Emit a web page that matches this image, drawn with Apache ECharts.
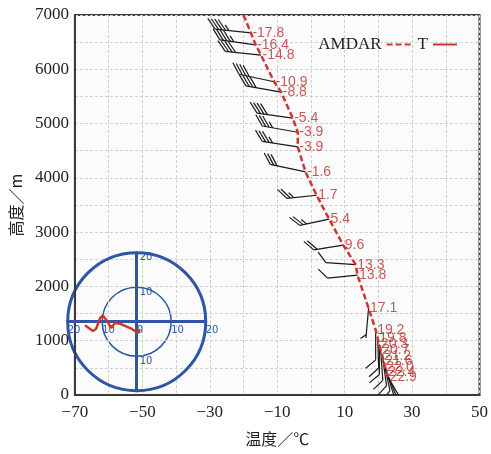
<!DOCTYPE html>
<html><head><meta charset="utf-8">
<script src="https://cdn.jsdelivr.net/npm/echarts@6/dist/echarts.min.js"></script>
<style>html,body{margin:0;padding:0;background:#fff}#c{width:491px;height:454px}</style>
</head><body><div id="c"></div>
<script>
// AMDAR profile: temperature (°C) and height (m)
const temps   = [-17.8,-16.4,-14.8,-10.9,-8.8,-5.4,-3.9,-3.9,-1.6,1.7,5.4,9.6,13.3,13.8,17.1,19.2,19.8,20.3,20.7,21.2,21.6,22.0,22.4,22.9];
const heights = [6670,6450,6260,5770,5580,5100,4840,4570,4110,3680,3240,2760,2400,2210,1600,1200,1050,930,820,720,620,520,430,330];
// wind direction (deg, from) and speed at each AMDAR point
const windDir = [276,278,276,282,280,278,280,279,282,264,258,261,274,264,185,180,178,180,176,172,168,163,158,150];
const windSpd = [48,46,44,40,40,44,38,36,30,28,26,20,10,10,8,10,12,10,14,12,10,12,10,8];
// top of the temperature profile line
const profileTopT = -20.0, profileTopH = 7000;
// inset hodograph (u, v)
const hodoU = [-15.0,-12.7,-11.8,-10.6,-9.8,-8.8,-7.4,-6.3,-4.8,-3.4,-1.4,0.4,0.9];
const hodoV = [-1.0,-2.7,-2.1,1.1,1.8,0.5,-1.8,-0.4,-0.6,-1.2,-2.1,-3.3,-2.1];
// axes
const xMin = -70, xMax = 50, xStep = 10, xLabelStep = 20;
const yMin = 0, yMax = 7000, yStep = 500, yLabelStep = 1000;

const points = temps.map((t, i) => [t, heights[i]]);
const lineData = [[profileTopT, profileTopH]].concat(points);
const barbData = temps.map((t, i) => [t, heights[i], windDir[i], windSpd[i]]);
const hodoData = hodoU.map((u, i) => [u, hodoV[i]]);

const BLUE = '#2f56a6', RED = '#d0362f';
const serif = '"Liberation Serif","Times New Roman",serif';
const minus = v => v < 0 ? '\u2212' + Math.abs(v) : String(v);

function renderBarb(params, api) {
  const p = api.coord([api.value(0), api.value(1)]);
  const rad = api.value(2) * Math.PI / 180;
  const spd = api.value(3);
  const s = [Math.sin(rad), -Math.cos(rad)];
  const perp = [-s[1], s[0]];
  const L = spd >= 30 ? 36 : 30, a = 50 * Math.PI / 180;
  const b = [s[0]*Math.cos(a) + perp[0]*Math.sin(a), s[1]*Math.cos(a) + perp[1]*Math.sin(a)];
  const tail = [p[0] + s[0]*L, p[1] + s[1]*L];
  const style = { stroke: '#1a1a1a', lineWidth: 1.2 };
  const children = [{ type: 'line', shape: { x1: p[0], y1: p[1], x2: tail[0], y2: tail[1] }, style }];
  const n = Math.floor(spd / 10), half = (spd % 10) >= 5;
  let i = 0;
  for (; i < n; i++) {
    const bx = tail[0] - s[0]*i*3.5, by = tail[1] - s[1]*i*3.5;
    children.push({ type: 'line', shape: { x1: bx, y1: by, x2: bx + b[0]*13, y2: by + b[1]*13 }, style });
  }
  if (half) {
    const k = i === 0 ? 1 : i;
    const bx = tail[0] - s[0]*k*3.5, by = tail[1] - s[1]*k*3.5;
    children.push({ type: 'line', shape: { x1: bx, y1: by, x2: bx + b[0]*7, y2: by + b[1]*7 }, style });
  }
  return { type: 'group', children };
}

const chart = echarts.init(document.getElementById('c'), null, { renderer: 'canvas' });
chart.setOption({
  animation: false,
  backgroundColor: '#fff',
  legend: {
    data: ['AMDAR', 'T'],
    right: 28, top: 31,
    align: 'right',
    itemWidth: 24, itemHeight: 12, itemGap: 6,
    itemStyle: { color: 'rgba(0,0,0,0)', borderWidth: 0 },
    textStyle: { fontFamily: serif, fontSize: 17, color: '#222' }
  },
  grid: [
    { left: 69, right: 7, top: 15, bottom: 59, show: true, borderColor: '#3a3a3a', borderWidth: 2, backgroundColor: '#fbfbfb' },
    { left: 67.7, top: 252.7, width: 138, height: 138, show: false }
  ],
  polar: { center: [136.7, 321.7], radius: 69 },
  radiusAxis: {
    polarIndex: 0, min: 0, max: 20, interval: 10,
    axisLine: { show: false }, axisTick: { show: false }, axisLabel: { show: false },
    splitLine: { show: true, lineStyle: { color: BLUE, width: 1.5, type: 'solid' } }
  },
  angleAxis: {
    polarIndex: 0, min: 0, max: 360, interval: 90,
    axisLine: { show: true, lineStyle: { color: BLUE, width: 3 } },
    axisTick: { show: false }, axisLabel: { show: false }, splitLine: { show: false }
  },
  xAxis: [
    {
      gridIndex: 0, type: 'value', min: xMin, max: xMax, interval: xStep,
      name: '温度／℃', nameLocation: 'middle', nameGap: 36,
      nameTextStyle: { fontFamily: '"Noto Sans CJK SC",sans-serif', fontSize: 16, color: '#222' },
      axisLine: { show: true, onZero: false, lineStyle: { color: '#3a3a3a', width: 2 } },
      axisTick: { show: false },
      axisLabel: { margin: 9, fontFamily: serif, fontSize: 17, color: '#222',
        formatter: v => ((v - xMin) % xLabelStep === 0 ? minus(v) : '') },
      splitLine: { show: true, lineStyle: { color: '#d0d0d0', type: [3, 2], width: 1 } }
    },
    {
      gridIndex: 1, type: 'value', min: -20, max: 20, interval: 10, position: 'bottom', offset: -69,
      axisLine: { show: true, onZero: false, lineStyle: { color: BLUE, width: 3 } },
      axisTick: { show: false }, splitLine: { show: false },
      axisLabel: { show: true, align: 'left', margin: 4, fontSize: 10, color: BLUE, fontFamily: 'DejaVu Sans,sans-serif',
        showMinLabel: true, showMaxLabel: true, formatter: v => String(Math.abs(v)) }
    }
  ],
  yAxis: [
    {
      gridIndex: 0, type: 'value', min: yMin, max: yMax, interval: yStep,
      name: '高度／m', nameLocation: 'middle', nameGap: 47, nameRotate: 90,
      nameTextStyle: { fontFamily: '"Noto Sans CJK SC",sans-serif', fontSize: 16, color: '#222' },
      axisLine: { show: true, onZero: false, lineStyle: { color: '#3a3a3a', width: 2 } },
      axisTick: { show: false },
      axisLabel: { margin: 6, fontFamily: serif, fontSize: 17, color: '#222',
        formatter: v => (v % yLabelStep === 0 ? String(v) : '') },
      splitLine: { show: true, lineStyle: { color: '#d0d0d0', type: [3, 2], width: 1 } }
    },
    {
      gridIndex: 1, type: 'value', min: -20, max: 20, interval: 10, position: 'left', offset: -69,
      axisLine: { show: true, onZero: false, lineStyle: { color: BLUE, width: 3 } },
      axisTick: { show: false }, splitLine: { show: false },
      axisLabel: { show: true, inside: true, verticalAlign: 'top', margin: 3, fontSize: 10, color: BLUE, fontFamily: 'DejaVu Sans,sans-serif',
        showMinLabel: true, showMaxLabel: true,
        formatter: v => (v === 0 || v === -20 ? '' : String(Math.abs(v))) }
    }
  ],
  series: [
    {
      name: 'barbs', type: 'custom', xAxisIndex: 0, yAxisIndex: 0,
      renderItem: renderBarb, data: barbData, clip: true, z: 3
    },
    {
      name: 'AMDAR', type: 'line', xAxisIndex: 0, yAxisIndex: 0,
      data: lineData, symbol: 'none', smooth: false,
      lineStyle: { color: RED, width: 2.5, type: [6, 3] }, itemStyle: { color: RED }, z: 4
    },
    {
      name: 'labels', type: 'scatter', xAxisIndex: 0, yAxisIndex: 0,
      data: points, symbolSize: 1, itemStyle: { color: 'rgba(0,0,0,0)' },
      label: { show: true, position: 'right', distance: 1,
        formatter: p => (p.value[0] < 0 ? '-' + Math.abs(p.value[0]).toFixed(1) : p.value[0].toFixed(1)),
        color: '#b8312f', fontSize: 14, fontFamily: '"Liberation Sans Narrow","Arial Narrow",sans-serif' },
      z: 5
    },
    {
      name: 'T', type: 'line', xAxisIndex: 1, yAxisIndex: 1,
      data: hodoData, symbol: 'none',
      lineStyle: { color: RED, width: 2.5 }, itemStyle: { color: RED }, z: 6
    }
  ]
});
</script></body></html>
